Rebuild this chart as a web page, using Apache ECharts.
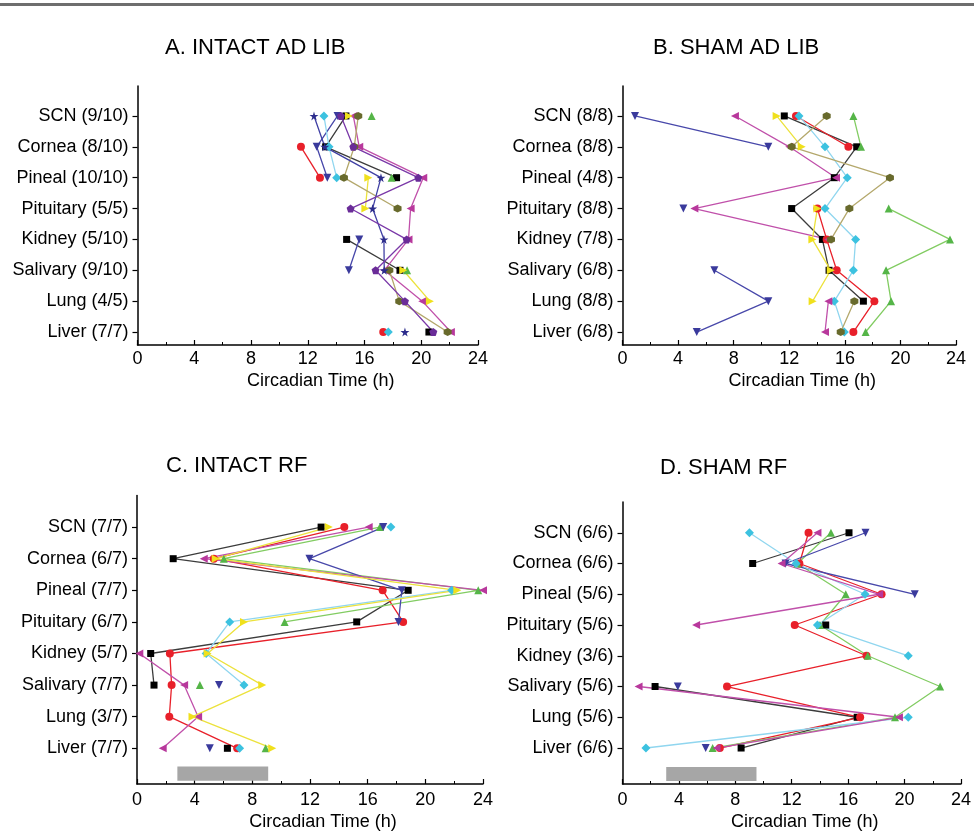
<!DOCTYPE html>
<html><head><meta charset="utf-8">
<script src="https://cdn.jsdelivr.net/npm/echarts@6/dist/echarts.min.js"></script>
<style>html,body{margin:0;padding:0;background:#fff}#c{width:974px;height:833px}</style>
</head><body><div id="c"></div>
<script>
// ---- categories / tick labels ----
const tissues = ['SCN', 'Cornea', 'Pineal', 'Pituitary', 'Kidney', 'Salivary', 'Lung', 'Liver'];
const countsA = ['9/10', '8/10', '10/10', '5/5', '5/10', '9/10', '4/5', '7/7'];
const countsB = ['8/8', '8/8', '4/8', '8/8', '7/8', '6/8', '8/8', '6/8'];
const countsC = ['7/7', '6/7', '7/7', '6/7', '5/7', '7/7', '3/7', '7/7'];
const countsD = ['6/6', '6/6', '5/6', '5/6', '3/6', '5/6', '5/6', '6/6'];
const panelTitles = ['A. INTACT AD LIB', 'B. SHAM AD LIB', 'C. INTACT RF', 'D. SHAM RF'];
const xTicks = [0, 4, 8, 12, 16, 20, 24];
const feedC = [2.8, 9.1];
const feedD = [3.1, 9.5];

// ---- Panel A: peak time (CT h) per tissue, order SCN..Liver ----
const aBlack   = [14.69, 13.26, 18.26, null, 14.74, 18.5, null, 20.54];
const aRed     = [null, 11.52, 12.86, null, null, null, null, 17.32];
const aGreen   = [16.5, null, 17.91, null, null, 19.0, null, null];
const aBlue    = [14.1, 12.63, 13.38, null, 15.63, 14.9, null, null];
const aCyan    = [13.14, 13.5, 14.04, null, null, null, null, 17.68];
const aMagenta = [15.21, 15.63, 20.14, 19.25, 19.1, 17.4, 20.07, 22.09];
const aYellow  = [14.9, null, 16.27, 16.06, null, 18.73, 20.61, null];
const aOlive   = [15.56, 15.28, 14.55, 18.33, null, 17.75, 18.45, 21.86];
const aNavy    = [12.44, 13.2, 17.16, 16.57, 17.37, 17.39, null, 18.85];
const aPurple  = [14.34, 15.21, 19.79, 15.02, 18.97, 16.78, 18.85, 20.85];

// ---- Panel B ----
const bBlack   = [11.64, 16.85, 15.24, 12.17, 14.38, 14.86, 17.33, null];
const bRed     = [12.48, 16.25, null, 14.02, 14.69, 15.41, 18.12, 16.61];
const bGreen   = [16.61, 17.16, null, 19.15, 23.56, 18.96, 19.32, 17.49];
const bBlue    = [0.9, 10.49, null, 4.38, null, 6.61, 10.49, 5.34];
const bCyan    = [12.7, 14.57, 16.17, 14.57, 16.77, 16.61, 15.24, 15.96];
const bMagenta = [8.09, 12.0, 15.36, 5.17, 14.8, null, 14.81, 14.57];
const bYellow  = [11.09, 12.89, null, 14.02, 13.66, 14.98, 13.68, null];
const bOlive   = [14.69, 12.17, 19.24, 16.32, 15.0, null, 16.68, 15.7];

// ---- Panel C ----
const cBlack   = [12.77, 2.51, 18.81, 15.24, 0.95, 1.18, null, 6.27];
const cRed     = [14.38, 5.33, 17.04, 18.46, 2.28, 2.4, 2.24, 6.95];
const cGreen   = [16.85, 6.02, 23.67, 10.24, null, 4.36, null, 8.92];
const cBlue    = [17.08, 11.96, 18.37, 18.14, null, 5.69, null, 5.05];
const cCyan    = [17.61, null, 21.83, 6.43, 4.8, 7.42, null, 7.12];
const cMagenta = [16.07, 4.63, 24.0, null, 0.16, 3.27, 4.24, 1.78];
const cYellow  = [13.3, 5.46, 22.22, 7.42, 4.9, 8.69, 3.85, 9.38];

// ---- Panel D ----
const dBlack   = [16.06, 9.23, null, 14.41, null, 2.31, 16.64, 8.41];
const dRed     = [13.19, 12.54, 18.37, 12.21, 17.3, 7.41, 16.85, 6.9];
const dGreen   = [14.78, 12.4, 15.83, 14.0, 17.39, 22.52, 19.32, 6.39];
const dBlue    = [17.23, 11.56, 20.72, null, null, 3.92, null, 5.9];
const dCyan    = [9.0, 12.31, 17.2, 13.82, 20.26, null, 20.26, 1.66];
const dMagenta = [13.82, 11.28, 18.2, 5.22, null, 1.14, 19.6, 6.67];

// ---- styles (not data) ----
const ST = {
  black:   {symbol: 'rect', size: 7, fill: '#000000', line: '#3c3c3c'},
  red:     {symbol: 'circle', size: 8, fill: '#e8202a', line: '#e8202a'},
  green:   {symbol: 'path://M5,0L10,9L0,9Z', size: 8, fill: '#55b548', line: '#82cc62'},
  blue:    {symbol: 'path://M0,0L10,0L5,9Z', size: 8, fill: '#3a3a9c', line: '#4848aa'},
  cyan:    {symbol: 'diamond', size: 9, fill: '#3cc2e0', line: '#90d6ef'},
  magenta: {symbol: 'path://M0,5L9,0L9,10Z', size: 8, fill: '#b8389c', line: '#c050aa'},
  yellow:  {symbol: 'path://M9,5L0,0L0,10Z', size: 8, fill: '#f0e01c', line: '#ece23c'},
  olive:   {symbol: 'path://M5,0L9.3,2.5L9.3,7.5L5,10L0.7,7.5L0.7,2.5Z', size: 8, fill: '#686a2c', line: '#b4a86c'},
  navy:    {symbol: 'path://M50,0L61,35L98,35L68,57L79,91L50,70L21,91L32,57L2,35L39,35Z', size: 9, fill: '#2c2c8c', line: '#4040a4'},
  purple:  {symbol: 'path://M50,0L98,35L79,91L21,91L2,35Z', size: 8, fill: '#6a2c98', line: '#7a38a8'}
};

const panels = [
  {counts: countsA, feed: null, yMin: -0.42, yMax: 7.97, s: [['black', aBlack], ['red', aRed], ['green', aGreen], ['blue', aBlue], ['cyan', aCyan], ['magenta', aMagenta], ['yellow', aYellow], ['olive', aOlive], ['navy', aNavy], ['purple', aPurple]]},
  {counts: countsB, feed: null, yMin: -0.42, yMax: 7.97, s: [['black', bBlack], ['red', bRed], ['green', bGreen], ['blue', bBlue], ['cyan', bCyan], ['magenta', bMagenta], ['yellow', bYellow], ['olive', bOlive]]},
  {counts: countsC, feed: feedC, yMin: -1.13, yMax: 8.0, s: [['black', cBlack], ['red', cRed], ['green', cGreen], ['blue', cBlue], ['cyan', cCyan], ['magenta', cMagenta], ['yellow', cYellow]]},
  {counts: countsD, feed: feedD, yMin: -1.17, yMax: 8.0, s: [['black', dBlack], ['red', dRed], ['green', dGreen], ['blue', dBlue], ['cyan', dCyan], ['magenta', dMagenta]]}
];

const grids = [
  {left: 137.5, top: 86, width: 340.5, height: 259},
  {left: 622.5, top: 86, width: 333.6, height: 259},
  {left: 137, top: 495.5, width: 346, height: 288.5},
  {left: 622.5, top: 502, width: 341, height: 282}
];
const labelMargin = [5, 5, 7, 7];
const nameGap = [27, 27, 29, 29];
const titlePos = [{left: 165, top: 37}, {left: 653, top: 37}, {left: 166, top: 455}, {left: 660, top: 457}];

const yVals = tissues.map((t, i) => 7 - i);
const font = 'Liberation Sans, Arial, sans-serif';

const xAxes = [], yAxes = [], series = [];
panels.forEach((p, pi) => {
  xAxes.push({
    gridIndex: pi, type: 'value', min: xTicks[0], max: xTicks[xTicks.length - 1], interval: 4,
    axisLine: {show: true, onZero: false, lineStyle: {color: '#000', width: 1.5}},
    axisTick: {show: true, inside: true, length: 5, lineStyle: {color: '#000', width: 1.2}},
    minorTick: {show: true, splitNumber: 2, length: 3, lineStyle: {color: '#000', width: 1}},
    axisLabel: {fontSize: 18, color: '#000', margin: labelMargin[pi], fontFamily: font},
    splitLine: {show: false},
    name: 'Circadian Time (h)', nameLocation: 'middle', nameGap: nameGap[pi],
    nameTextStyle: {fontSize: 18, color: '#000', fontFamily: font, padding: [0, 0, 0, 26]}
  });
  yAxes.push({
    gridIndex: pi, type: 'value', min: p.yMin, max: p.yMax,
    axisLine: {show: true, onZero: false, lineStyle: {color: '#000', width: 1.5}},
    axisTick: {show: true, customValues: yVals, length: 5, lineStyle: {color: '#000', width: 1.2}},
    axisLabel: {customValues: yVals, fontSize: 18, color: '#000', margin: 9, fontFamily: font,
      formatter: v => tissues[7 - Math.round(v)] + ' (' + p.counts[7 - Math.round(v)] + ')'},
    splitLine: {show: false}
  });
  p.s.forEach(([key, vals], si) => {
    const st = ST[key];
    const line = {
      type: 'line', xAxisIndex: pi, yAxisIndex: pi, data: vals.map((v, i) => [v, 7 - i]),
      showSymbol: false, symbol: 'none', connectNulls: false, clip: false,
      lineStyle: {color: st.line, width: 1.3}, silent: true, animation: false, z: 2
    };
    if (si === 0 && p.feed) {
      line.markArea = {silent: true, itemStyle: {color: '#a6a6a6', opacity: 1},
        data: [[{xAxis: p.feed[0], yAxis: p.yMin + 0.1}, {xAxis: p.feed[1], yAxis: p.yMin + 0.55}]]};
    }
    series.push(line);
  });
  p.s.forEach(([key, vals]) => {
    const st = ST[key];
    series.push({
      type: 'scatter', xAxisIndex: pi, yAxisIndex: pi,
      data: vals.map((v, i) => [v, 7 - i]),
      symbol: st.symbol, symbolSize: st.size, clip: false,
      itemStyle: {color: st.fill, opacity: 1}, silent: true, animation: false, z: 3
    });
  });
});

const chart = echarts.init(document.getElementById('c'), null, {renderer: 'canvas'});
chart.setOption({
  backgroundColor: '#ffffff',
  animation: false,
  title: panelTitles.map((t, i) => ({text: t, left: titlePos[i].left, top: titlePos[i].top, padding: 0,
    textStyle: {fontSize: 22, fontWeight: 'normal', color: '#000', fontFamily: font}})),
  graphic: [{type: 'rect', shape: {x: 0, y: 3, width: 974, height: 3}, style: {fill: '#6e6e6e'}, silent: true}],
  grid: grids,
  xAxis: xAxes,
  yAxis: yAxes,
  series: series
});
</script></body></html>
